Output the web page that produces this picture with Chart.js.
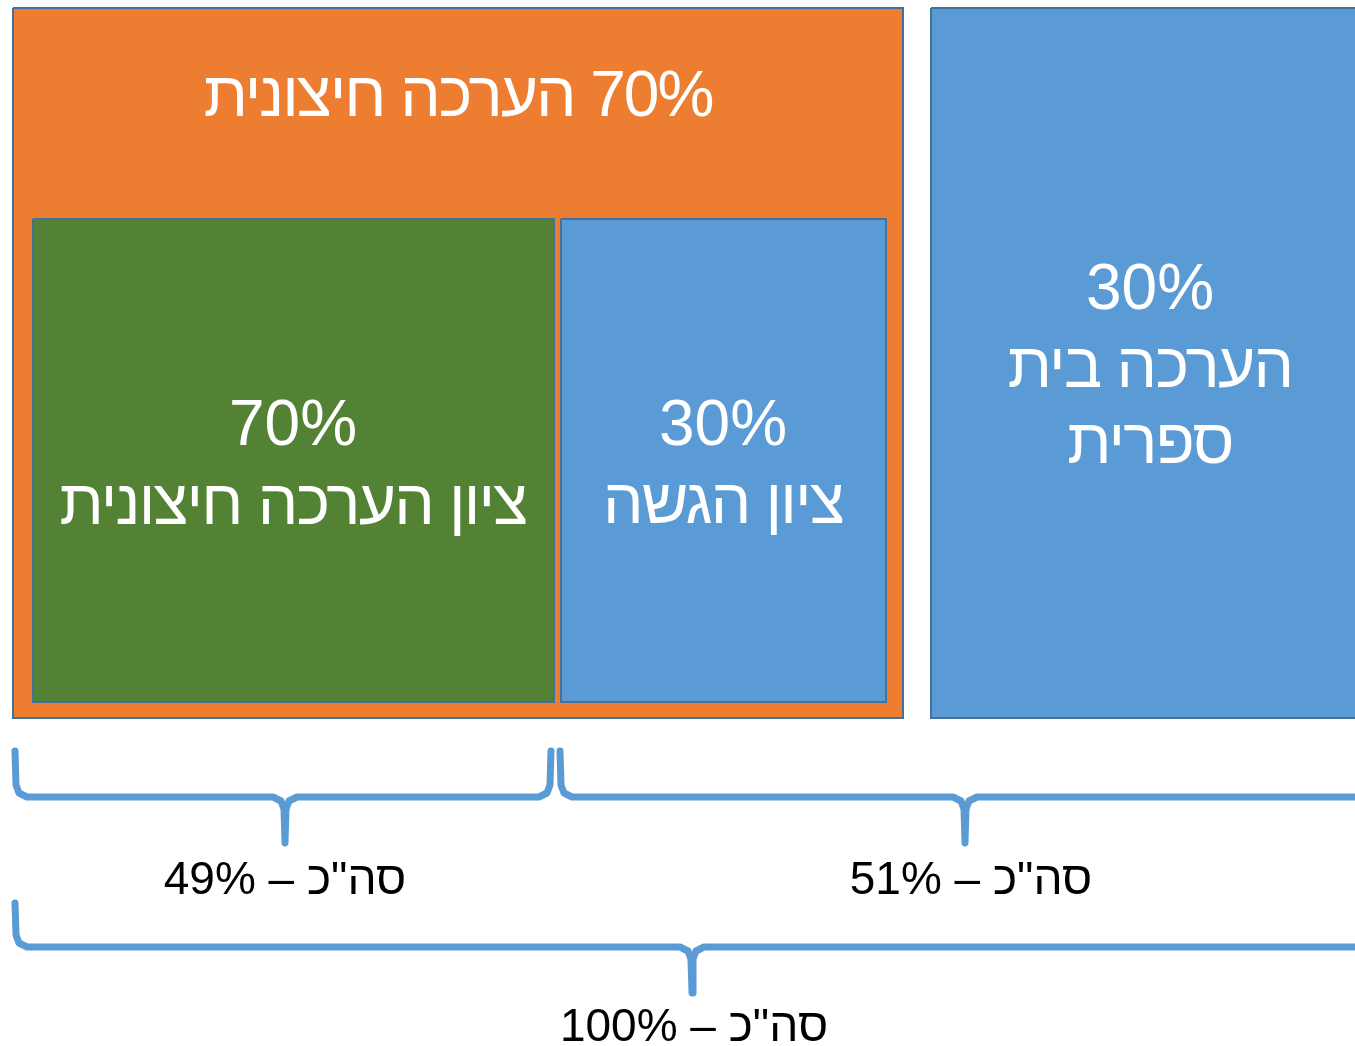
<!DOCTYPE html>
<html>
<head>
<meta charset="utf-8">
<script src="https://cdn.jsdelivr.net/npm/chart.js@4.4.1/dist/chart.umd.min.js"></script>
<style>
  html, body { margin: 0; padding: 0; background: #fff; overflow: hidden }
  canvas { display: block }
</style>
</head>
<body>
<canvas id="chart" width="1355" height="1046"></canvas>
<script>
// weights shown in the diagram
const externalPct = 70
const schoolPct = 30
const examPct = 70
const submitPct = 30
const leftTotal = 49
const rightTotal = 51
const grandTotal = 100

// texts
const titleText = 'הערכה חיצונית'
const examText = 'ציון הערכה חיצונית'
const submitText = 'ציון הגשה'
const schoolLines = ['הערכה בית', 'ספרית']
const totalWord = 'סה"כ'

// layout of the boxes, in diagram units (x 0..1355, y 0..1046 downwards)
const boxLeft = [13, 931, 33, 561]
const boxRight = [903, 1369, 554, 886]
const boxTop = [8, 8, 219, 219]
const boxBottom = [718, 718, 702, 702]
const boxColor = ['#ED7D31', '#5B9BD5', '#548235', '#5B9BD5']
const boxLayer = [6, 6, 4, 4]

// braces: [left, right, top, bar, tipX, tipY]
const braces = [
  [15, 551, 751, 797, 285, 843],
  [560, 1375, 751, 797, 965, 843],
  [15, 1375, 903, 947, 692, 993]
]

const W = 1355
const H = 1046
const edge = '#41719C'
const braceColor = '#5B9BD5'
const font = '"Liberation Sans", Arial, sans-serif'

function bracePoints([x0, x1, top, bar, tx, ty]) {
  return [
    { x: x0, y: top }, { x: x0 + 1, y: bar - 12 }, { x: x0 + 4, y: bar - 4 }, { x: x0 + 12, y: bar },
    { x: tx - 12, y: bar }, { x: tx - 4, y: bar + 4 }, { x: tx - 1, y: bar + 12 }, { x: tx, y: ty },
    { x: tx + 1, y: bar + 12 }, { x: tx + 4, y: bar + 4 }, { x: tx + 12, y: bar },
    { x: x1 - 12, y: bar }, { x: x1 - 4, y: bar - 4 }, { x: x1 - 1, y: bar - 12 }, { x: x1, y: top }
  ]
}

const datasets = []
boxLeft.forEach((l, i) => {
  const r = boxRight[i], t = boxTop[i], b = boxBottom[i]
  datasets.push({
    data: [{ x: l, y: t }, { x: r, y: t }],
    fill: '+1', backgroundColor: boxColor[i], borderColor: 'transparent', borderWidth: 0, order: boxLayer[i]
  })
  datasets.push({
    data: [{ x: l, y: b }, { x: r, y: b }],
    fill: false, borderColor: 'transparent', borderWidth: 0, order: boxLayer[i]
  })
  datasets.push({
    data: [{ x: l, y: t }, { x: r, y: t }, { x: r, y: b }, { x: l, y: b }, { x: l, y: t }],
    fill: false, borderColor: edge, borderWidth: 2, order: boxLayer[i] - 1
  })
})
braces.forEach(br => {
  datasets.push({
    data: bracePoints(br),
    fill: false, borderColor: braceColor, borderWidth: 7,
    borderCapStyle: 'round', borderJoinStyle: 'round', order: 1
  })
})

// [text, spacing] per line; hebrew lines are set a little tighter
const labels = [
  { x: 458, y: [116], lines: [[`${externalPct}% ${titleText}`, -2]], color: '#fff', size: 64 },
  { x: 293, y: [445, 524], lines: [[`${examPct}%`, 0], [examText, -1.8]], color: '#fff', size: 64 },
  { x: 723, y: [445, 523], lines: [[`${submitPct}%`, 0], [submitText, -1.8]], color: '#fff', size: 64 },
  { x: 1150, y: [309, 387, 463], lines: [[`${schoolPct}%`, 0], [schoolLines[0], -1.7], [schoolLines[1], -1.7]], color: '#fff', size: 64 },
  { x: 285, y: [894], lines: [[`${totalWord} – ${leftTotal}%`, 0]], color: '#000', size: 46 },
  { x: 971, y: [894], lines: [[`${totalWord} – ${rightTotal}%`, 0]], color: '#000', size: 46 },
  { x: 694, y: [1041], lines: [[`${totalWord} – ${grandTotal}%`, 0]], color: '#000', size: 46 }
]

const textPlugin = {
  id: 'boxText',
  afterDatasetsDraw(chart) {
    const { ctx, scales: { x, y } } = chart
    ctx.save()
    ctx.direction = 'rtl'
    ctx.textAlign = 'center'
    ctx.textBaseline = 'alphabetic'
    labels.forEach(lb => {
      ctx.fillStyle = lb.color
      ctx.font = `${lb.size}px ${font}`
      lb.lines.forEach(([s, sp], i) => {
        ctx.letterSpacing = `${sp}px`
        ctx.fillText(s, x.getPixelForValue(lb.x), y.getPixelForValue(lb.y[i]))
      })
    })
    ctx.restore()
  }
}

new Chart(document.getElementById('chart'), {
  type: 'line',
  data: { datasets },
  plugins: [textPlugin],
  options: {
    responsive: false,
    animation: false,
    devicePixelRatio: 1,
    layout: { padding: 0 },
    elements: { point: { radius: 0, hoverRadius: 0 }, line: { tension: 0 } },
    scales: {
      x: { type: 'linear', min: 0, max: W, display: false },
      y: { type: 'linear', min: 0, max: H, reverse: true, display: false }
    },
    plugins: { legend: { display: false }, tooltip: { enabled: false } },
    events: []
  }
})
</script>
</body>
</html>
